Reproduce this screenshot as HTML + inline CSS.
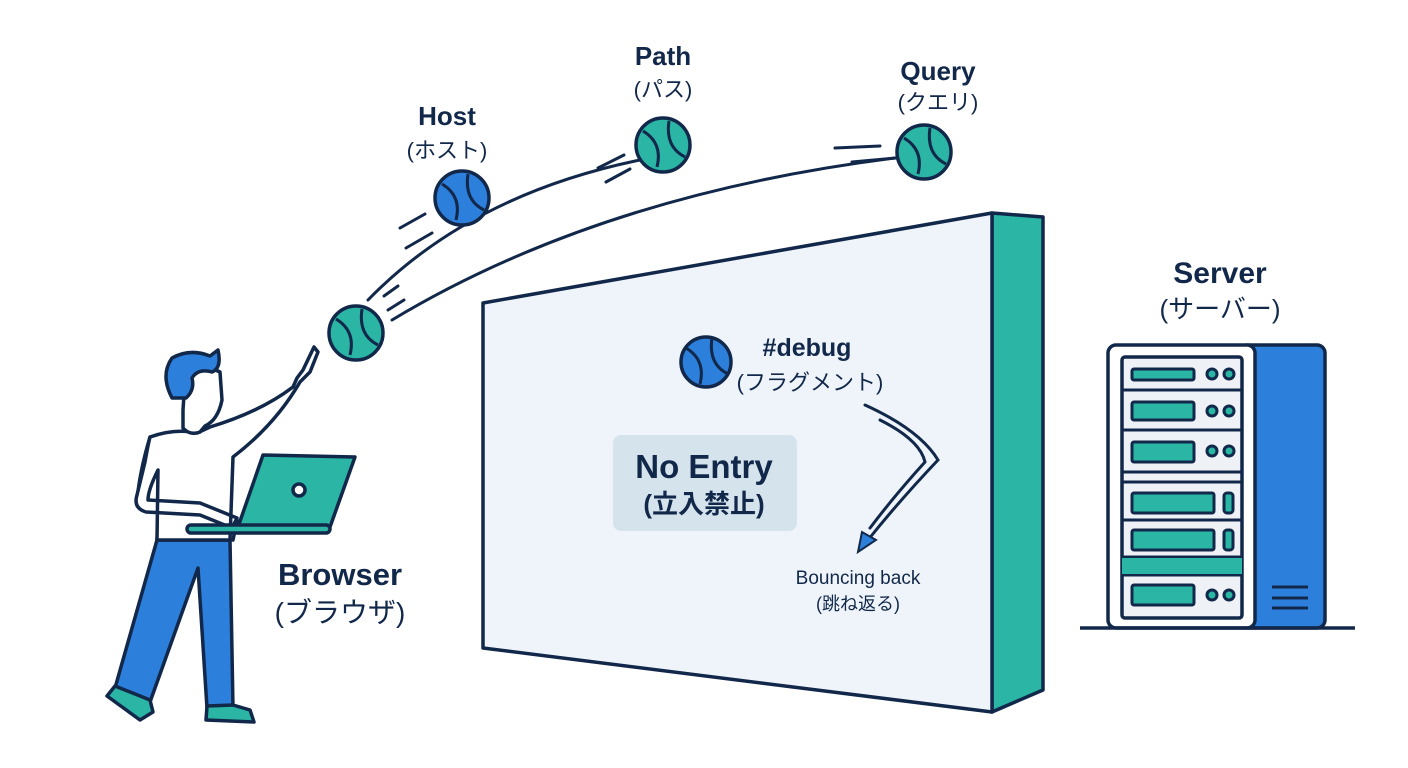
<!DOCTYPE html>
<html><head><meta charset="utf-8"><style>
body{margin:0;background:#fff}
svg{display:block}
text{font-family:"Liberation Sans","Noto Sans CJK JP",sans-serif;fill:#12284a;text-anchor:middle}
.b{font-weight:bold}
</style></head><body>
<svg width="1408" height="768" viewBox="0 0 1408 768" xmlns="http://www.w3.org/2000/svg">
<defs>
<g id="seam"><path d="M-20,-14 Q0,-2 -6,22" fill="none" stroke="#12284a" stroke-width="3"/><path d="M6,-24 Q2,2 22,12" fill="none" stroke="#12284a" stroke-width="3"/></g>
</defs>
<g stroke="#12284a" stroke-width="3.5" stroke-linejoin="round" stroke-linecap="round">
<polygon points="992,213 1043,217 1043,690 992,712" fill="#2ab5a5"/>
<polygon points="483,303 992,213 992,712 483,648" fill="#eef4fa"/>
</g>
<rect x="613" y="435" width="184" height="96" rx="8" fill="#d5e3ec"/>
<text x="704" y="478" font-size="33" class="b">No Entry</text>
<text x="704" y="513" font-size="26" class="b">(立入禁止)</text>

<g fill="none" stroke="#12284a" stroke-width="3" stroke-linecap="round">
<path d="M368,300 Q470,195 640,160"/>
<path d="M392,320 Q600,195 895,158"/>
<path d="M400,228 L425,214"/><path d="M406,248 L432,233"/>
<path d="M598,168 L624,155"/><path d="M606,182 L630,169"/>
<path d="M835,148 L880,146"/><path d="M852,162 L896,158"/>
<path d="M384,296 L398,286"/><path d="M388,310 L404,300"/>
<path d="M865,405 Q920,430 938,460 Q900,500 868,540"/>
<path d="M880,420 Q920,440 925,462 Q895,495 870,528"/>
</g>
<polygon points="858,552 862,532 876,540" fill="#2d7fdc" stroke="#12284a" stroke-width="2"/>

<g stroke="#12284a" stroke-width="3.5">
<circle cx="462" cy="198" r="27" fill="#2d7fdc"/>
<circle cx="663" cy="145" r="27" fill="#2ab5a5"/>
<circle cx="924" cy="152" r="27" fill="#2ab5a5"/>
<circle cx="356" cy="333" r="27" fill="#2ab5a5"/>
<circle cx="706" cy="362" r="25" fill="#2d7fdc"/>
</g>
<use href="#seam" x="462" y="198"/><use href="#seam" x="663" y="145"/><use href="#seam" x="924" y="152"/><use href="#seam" x="356" y="333"/><use href="#seam" x="706" y="362"/>

<text x="447" y="125" font-size="26" class="b">Host</text>
<text x="447" y="158" font-size="22">(ホスト)</text>
<text x="663" y="65" font-size="26" class="b">Path</text>
<text x="663" y="97" font-size="22">(パス)</text>
<text x="938" y="80" font-size="26" class="b">Query</text>
<text x="938" y="110" font-size="22">(クエリ)</text>
<text x="807" y="356" font-size="25" class="b">#debug</text>
<text x="810" y="390" font-size="22">(フラグメント)</text>
<text x="858" y="584" font-size="19">Bouncing back</text>
<text x="858" y="610" font-size="18">(跳ね返る)</text>
<text x="1220" y="283" font-size="30" class="b">Server</text>
<text x="1220" y="318" font-size="26">(サーバー)</text>
<text x="340" y="585" font-size="31" class="b">Browser</text>
<text x="340" y="622" font-size="28">(ブラウザ)</text>

<!-- person -->
<g stroke="#12284a" stroke-width="3.5" stroke-linejoin="round" stroke-linecap="round">
<!-- legs -->
<path d="M157,540 L115,688 L150,702 L198,568 L207,708 L233,708 L230,540 Z" fill="#2d7fdc"/>
<path d="M115,686 L107,696 L140,720 L153,712 L150,700 Z" fill="#2ab5a5"/>
<path d="M207,706 L206,720 L254,722 L250,710 L233,705 Z" fill="#2ab5a5"/>
<!-- torso + arms -->
<path d="M150,437 Q140,470 137,500 Q138,508 148,510 L207,505 L237,520 L233,540 L157,540 L160,470 M150,437" fill="#fff"/>
<path d="M150,437 Q175,428 197,433 L210,427 Q260,412 293,387 L297,378 L303,370 L314,347 L318,352 L310,372 L300,382 Q275,425 233,457 L230,540 L157,540 L158,470 Q148,490 148,500 L200,503 L237,518 L232,528 L200,515 L146,512 Q133,508 137,495 L145,462 Q148,445 150,437 Z" fill="#fff"/>
<path d="M183,410 L183,428 Q190,436 200,432 L205,426 Q218,420 222,400 L220,372 Q200,362 185,380 Z" fill="#fff"/>
<path d="M172,398 Q160,375 172,358 Q190,348 210,356 L218,350 Q222,368 212,372 Q198,368 192,378 Q195,390 186,398 Z" fill="#2d7fdc"/>
<polygon points="263,455 355,457 330,527 238,527" fill="#2ab5a5"/>
<rect x="187" y="525" width="143" height="8" rx="4" fill="#2ab5a5"/>
<circle cx="299" cy="490" r="6" fill="#fff"/>
</g>

<!-- server -->
<g stroke="#12284a" stroke-width="3.5" stroke-linejoin="round">
<rect x="1240" y="345" width="85" height="283" rx="8" fill="#2d7fdc"/>
<rect x="1108" y="345" width="147" height="283" rx="8" fill="#fff"/>
<rect x="1122" y="357" width="120" height="261" rx="3" fill="#eef2f6"/>
</g>
<g stroke="#12284a" stroke-width="3" fill="#2ab5a5">
<line x1="1122" y1="390" x2="1242" y2="390"/><line x1="1122" y1="430" x2="1242" y2="430"/><line x1="1122" y1="472" x2="1242" y2="472"/><line x1="1122" y1="482" x2="1242" y2="482"/><line x1="1122" y1="520" x2="1242" y2="520"/><line x1="1122" y1="557" x2="1242" y2="557"/><line x1="1122" y1="575" x2="1242" y2="575"/>
<rect x="1132" y="369" width="62" height="11" rx="2"/>
<rect x="1132" y="402" width="62" height="18" rx="2"/>
<rect x="1132" y="442" width="62" height="20" rx="2"/>
<rect x="1132" y="493" width="82" height="20" rx="2"/>
<rect x="1132" y="530" width="82" height="20" rx="2"/>
<rect x="1122" y="558" width="120" height="16" fill="#2ab5a5" stroke="none"/>
<rect x="1132" y="585" width="62" height="20" rx="2"/>
<circle cx="1212" cy="374" r="5"/><circle cx="1229" cy="374" r="5"/>
<circle cx="1212" cy="411" r="5"/><circle cx="1229" cy="411" r="5"/>
<circle cx="1212" cy="451" r="5"/><circle cx="1229" cy="451" r="5"/>
<circle cx="1212" cy="595" r="5"/><circle cx="1229" cy="595" r="5"/>
<rect x="1224" y="493" width="9" height="20" rx="3"/>
<rect x="1224" y="530" width="9" height="20" rx="3"/>
<line x1="1272" y1="587" x2="1308" y2="587"/><line x1="1272" y1="598" x2="1308" y2="598"/><line x1="1272" y1="608" x2="1308" y2="608"/>
<line x1="1080" y1="628" x2="1355" y2="628" stroke-width="3.5"/>
</g>
</svg>
</body></html>
